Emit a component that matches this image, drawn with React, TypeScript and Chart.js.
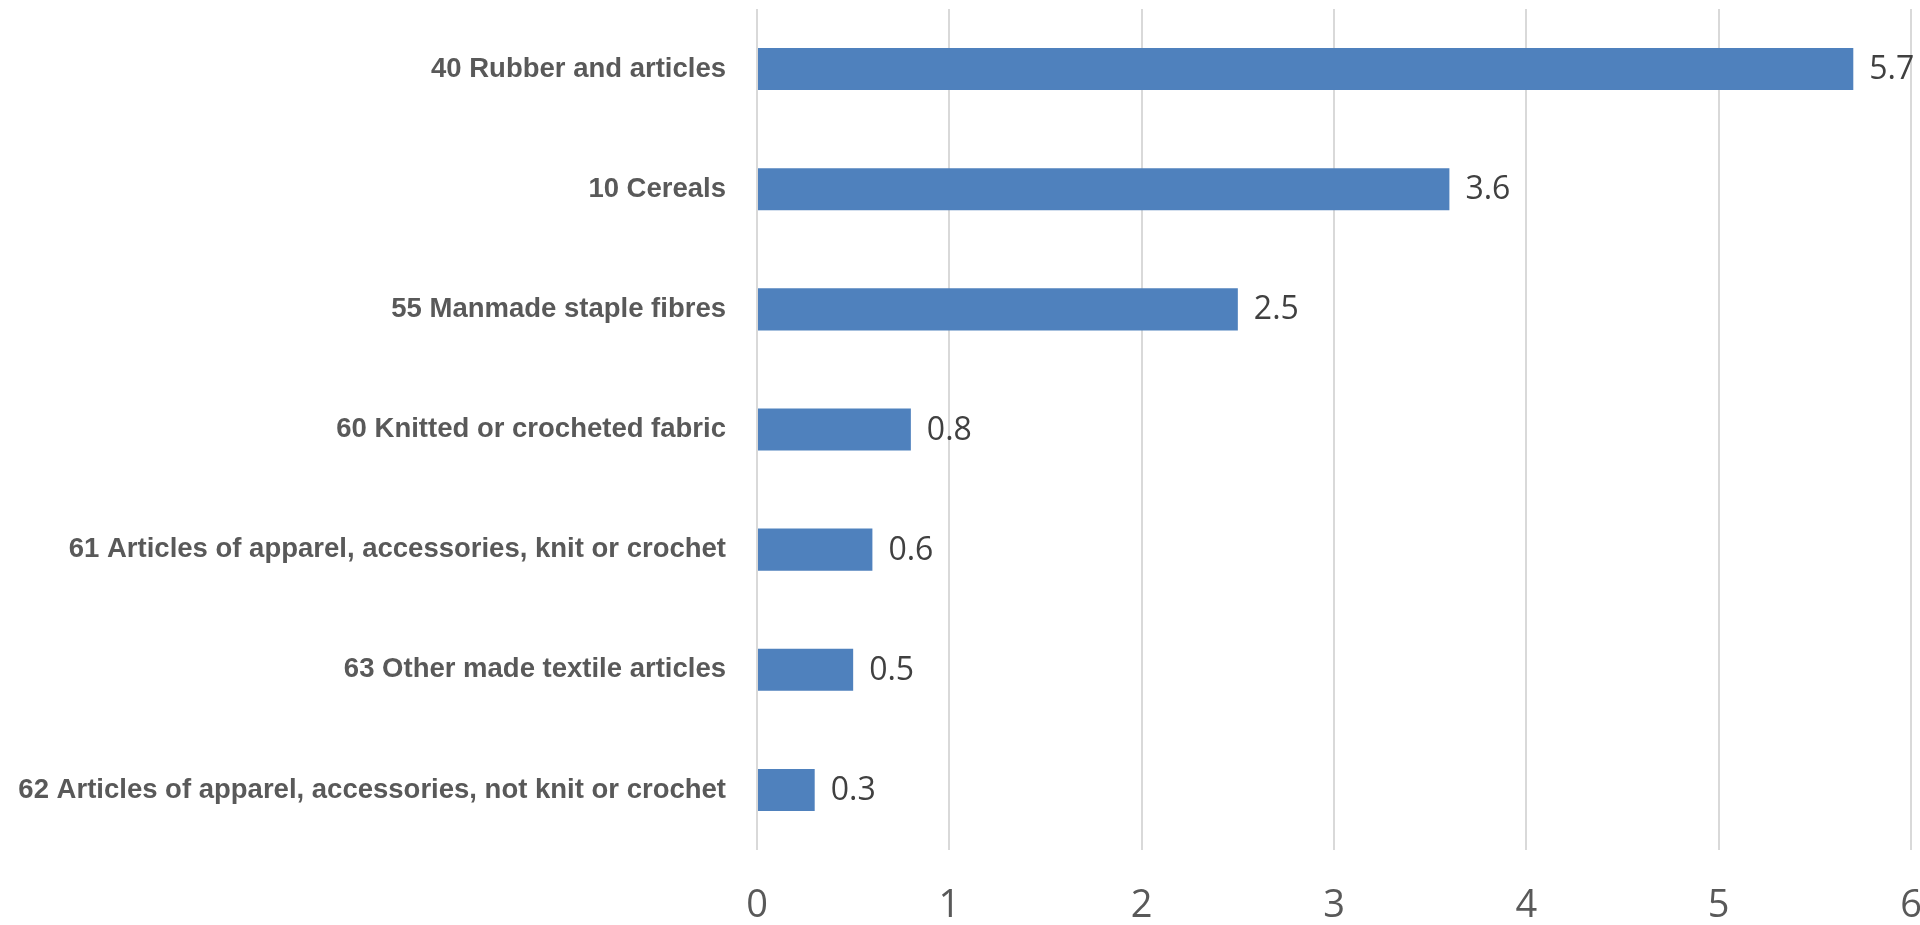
import React, { useEffect, useRef } from "react";
import { Chart, registerables } from "chart.js";

Chart.register(...registerables);

const categories = [
  "40 Rubber and articles",
  "10 Cereals",
  "55 Manmade staple fibres",
  "60 Knitted or crocheted fabric",
  "61 Articles of apparel, accessories, knit or crochet",
  "63 Other made textile articles",
  "62 Articles of apparel, accessories, not knit or crochet",
];

const values = [5.7, 3.6, 2.5, 0.8, 0.6, 0.5, 0.3];

const xTickValues = [0, 1, 2, 3, 4, 5, 6];

export default function App() {
  const ref = useRef<HTMLCanvasElement>(null);

  useEffect(() => {
    if (!ref.current) return;

    const valueLabels = {
      id: "valueLabels",
      afterDatasetsDraw(chart: any) {
        const ctx = chart.ctx;
        const meta = chart.getDatasetMeta(0);
        ctx.save();
        ctx.font = '32px "Open Sans"';
        ctx.fillStyle = "#404040";
        ctx.textAlign = "left";
        ctx.textBaseline = "middle";
        meta.data.forEach((bar: any, i: number) => {
          ctx.fillText(String(values[i]), bar.x + 16, bar.y + 1);
        });
        ctx.restore();
      },
    };

    const chart = new Chart(ref.current, {
      type: "bar",
      data: {
        labels: categories,
        datasets: [
          {
            data: values,
            backgroundColor: "#4F81BD",
            borderWidth: 0,
            barPercentage: 0.35,
            categoryPercentage: 1,
          },
        ],
      },
      options: {
        indexAxis: "y",
        responsive: false,
        animation: false,
        layout: { padding: { top: 9, right: 0, bottom: 0, left: 0 } },
        plugins: {
          legend: { display: false },
          tooltip: { enabled: false },
        },
        scales: {
          x: {
            type: "linear",
            min: 0,
            max: 6,
            afterBuildTicks(scale: any) {
              scale.ticks = xTickValues.map((v) => ({ value: v }));
            },
            grid: { color: "#d9d9d9", lineWidth: 2, drawTicks: false },
            border: { display: false },
            ticks: {
              font: { family: '"Open Sans"', size: 38 },
              color: "#595959",
              padding: 33,
              maxRotation: 0,
            },
            afterFit(scale: any) {
              scale.height = 75;
              scale.paddingRight = 9;
              scale.paddingLeft = 0;
            },
          },
          y: {
            grid: { display: false, drawTicks: false },
            border: { display: false },
            ticks: {
              font: { family: '"Liberation Sans"', size: 27.5, weight: "bold" },
              color: "#595959",
              padding: 31,
              autoSkip: false,
            },
            afterFit(scale: any) {
              scale.width = 757;
              scale.paddingTop = 0;
              scale.paddingBottom = 0;
            },
          },
        },
      },
      plugins: [valueLabels],
    });

    return () => chart.destroy();
  }, []);

  return (
    <div
      style={{
        position: "fixed",
        left: 0,
        top: 0,
        width: 1920,
        height: 925,
        background: "#ffffff",
        overflow: "hidden",
      }}
    >
      <canvas ref={ref} width={1920} height={925} style={{ display: "block" }} />
    </div>
  );
}
